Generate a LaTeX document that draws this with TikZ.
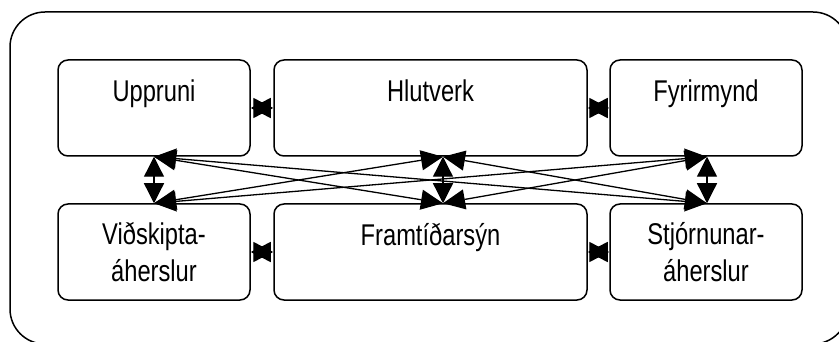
\documentclass[tikz,border=0pt]{standalone}
\usepackage{fontspec}
\setmainfont{Liberation Sans}[FakeStretch=0.79]
\usetikzlibrary{arrows.meta}
\tikzset{
  box/.style={draw, line width=1.5pt, rounded corners=10pt, minimum height=96pt, inner sep=0pt},
  lbl/.style={anchor=base, inner sep=0pt, font=\fontsize{30}{37}\selectfont},
  link/.style={line width=1.3pt, {Triangle[length=22pt,width=20pt]}-{Triangle[length=22pt,width=20pt]}},
  vlink/.style={line width=1.3pt, {Triangle[length=20pt,width=20pt]}-{Triangle[length=20pt,width=20pt]}},
  outer/.style={draw, line width=1.5pt, rounded corners=35pt}
}
\begin{document}
\begin{tikzpicture}[x=1pt,y=-1pt]
\useasboundingbox (0,0) rectangle (839,342);
\draw[outer] (10,12) rectangle (848,344);
% boxes
\node[box, minimum width=192pt] (U) at (154,108) {};
\node[box, minimum width=313pt] (H) at (430.5,108) {};
\node[box, minimum width=192pt] (F) at (706,108) {};
\node[box, minimum width=192pt] (V) at (154,252) {};
\node[box, minimum width=313pt] (T) at (430.5,252) {};
\node[box, minimum width=192pt] (S) at (706,252) {};
% texts
\node[lbl] (tU) at ([yshift=-42pt]U.north) {Uppruni};
\node[lbl] (tH) at ([yshift=-42pt]H.north) {Hlutverk};
\node[lbl] (tF) at ([yshift=-42pt]F.north) {Fyrirmynd};
\node[lbl] (tV) at ([yshift=-41pt]V.north) {\vtop{\halign{\hfil#\hfil\cr Viðskipta-\cr áherslur\cr}}};
\node[lbl] (tT) at ([yshift=-42pt]T.north) {Framtíðarsýn};
\node[lbl] (tS) at ([yshift=-41pt]S.north) {\vtop{\halign{\hfil#\hfil\cr Stjórnunar-\cr áherslur\cr}}};
% anchor points
\coordinate (Ub) at (U.south);
\coordinate (Vt) at (V.north);
\coordinate (Hb) at ([xshift=12.5pt]H.south);
\coordinate (Tt) at ([xshift=12.5pt]T.north);
\coordinate (Fb) at ([xshift=1pt]F.south);
\coordinate (St) at ([xshift=1pt]S.north);
% horizontal links
\draw[vlink] (U.east) -- (H.west);
\draw[vlink] (H.east) -- (F.west);
\draw[vlink] (V.east) -- (T.west);
\draw[vlink] (T.east) -- (S.west);
% vertical links
\draw[vlink] (Ub) -- (Vt);
\draw[vlink] (Hb) -- (Tt);
\draw[vlink] (Fb) -- (St);
% diagonal links
\draw[link] (Ub) -- (Tt);
\draw[link] (Ub) -- (St);
\draw[link] (Vt) -- (Hb);
\draw[link] (Vt) -- (Fb);
\draw[link] (Hb) -- (St);
\draw[link] (Tt) -- (Fb);
\end{tikzpicture}
\end{document}
